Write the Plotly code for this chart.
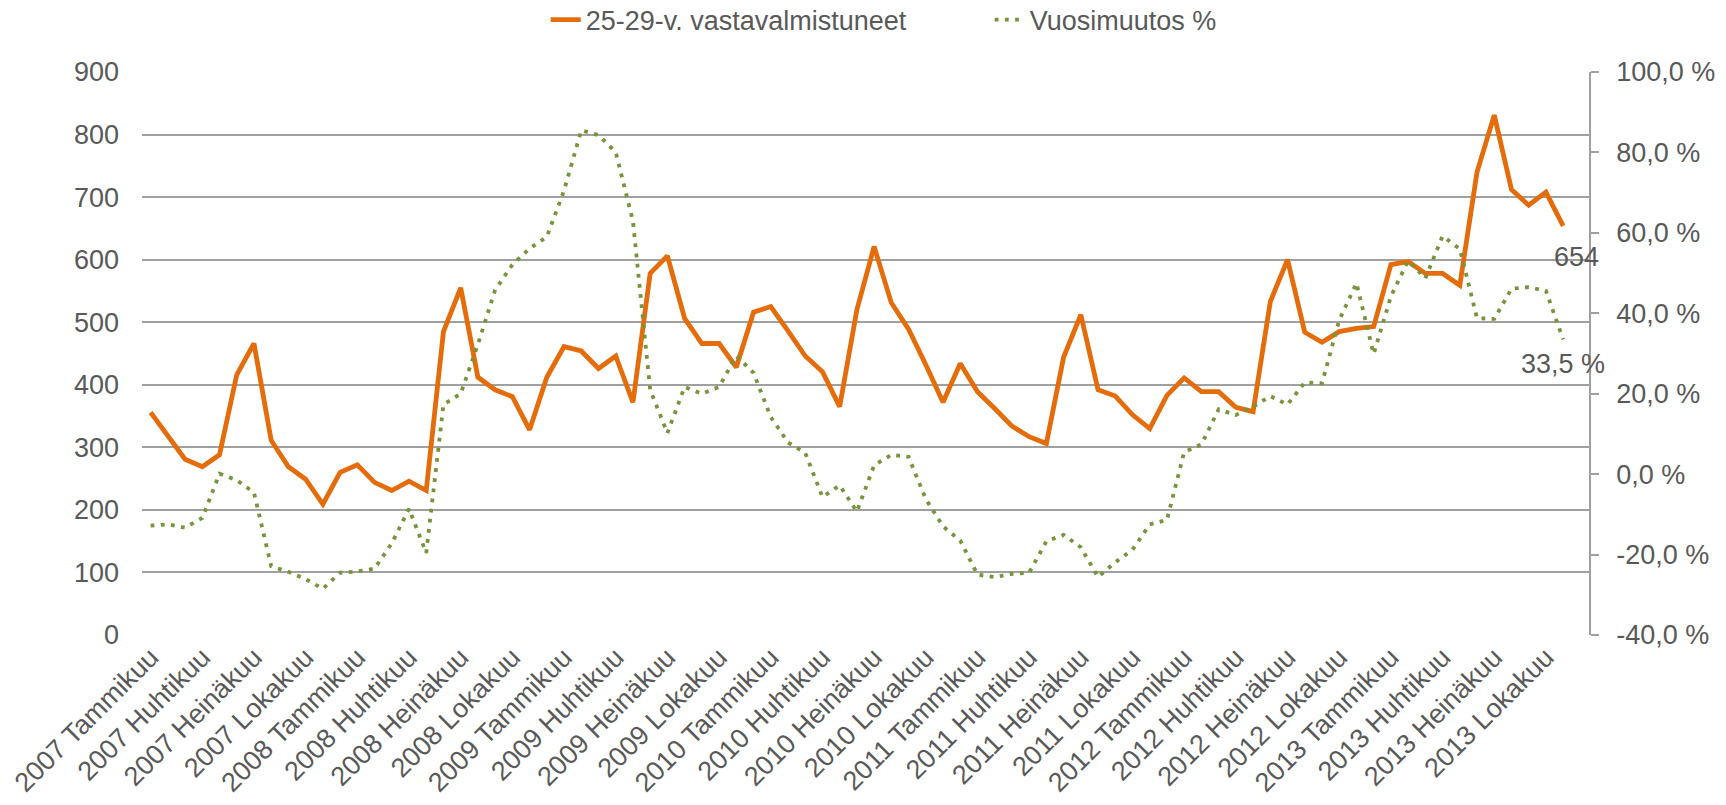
import plotly.graph_objects as go

years = [2007, 2008, 2009, 2010, 2011, 2012, 2013]
months = ["Tammikuu", "Helmikuu", "Maaliskuu", "Huhtikuu", "Toukokuu", "Kesäkuu",
          "Heinäkuu", "Elokuu", "Syyskuu", "Lokakuu", "Marraskuu", "Joulukuu"]
categories = [f"{y} {m}" for y in years for m in months]  # 2013 Joulukuu has no data

graduates = [356, 320, 281, 269, 288, 416, 466, 311, 269, 249, 209, 260,
             272, 244, 231, 246, 231, 485, 555, 412, 392, 381, 328, 412,
             461, 454, 426, 446, 372, 578, 606, 506, 466, 466, 428, 516,
             525, 486, 446, 421, 365, 520, 621, 531, 489, 432, 372, 434,
             389, 362, 334, 317, 306, 444, 512, 392, 382, 352, 330, 383,
             411, 389, 389, 364, 357, 533, 600, 484, 468, 485, 490, 493,
             592, 597, 578, 578, 559, 740, 831, 712, 687, 708, 654, None]

yoy_change = [-12.8, -12.5, -13.3, -10.9, 0.1, -1.5, -4.6, -22.9, -24.3, -26.1, -28.5, -24.5,
              -24.2, -23.5, -17.2, -8.6, -19.6, 17.3, 20.0, 32.3, 45.8, 52.1, 56.1, 59.0,
              70.5, 85.5, 84.3, 80.1, 62.9, 21.0, 10.2, 21.7, 20.0, 21.7, 29.4, 25.2,
              14.2, 7.9, 5.3, -5.7, -2.8, -9.3, 2.2, 4.8, 4.3, -6.2, -13.0, -16.5,
              -25.0, -25.6, -24.8, -24.5, -16.7, -15.1, -18.2, -25.6, -21.9, -18.8, -12.5, -11.4,
              5.5, 7.4, 16.1, 14.7, 16.8, 19.4, 17.3, 22.8, 22.6, 38.3, 47.5, 29.9,
              44.2, 53.1, 48.7, 59.2, 56.0, 38.8, 38.6, 46.1, 46.5, 45.6, 33.5, None]

left_ticks = list(range(0, 1000, 100))
right_ticks = list(range(-40, 120, 20))
right_ticktext = [f"{v},0 %" for v in right_ticks]
x_tickvals = categories[::3]

ORANGE = "#E46C0A"
GREEN = "#77933C"
GRID = "#A0A0A0"
TXT = "#595959"
FONT = "Liberation Sans, Arial, sans-serif"
FS = 27

last_i = max(i for i, v in enumerate(graduates) if v is not None)

fig = go.Figure()
fig.add_trace(go.Scatter(
    x=categories, y=graduates, name="25-29-v. vastavalmistuneet",
    mode="lines", line=dict(color=ORANGE, width=4.8)))
fig.add_trace(go.Scatter(
    x=categories, y=yoy_change, name="Vuosimuutos %", yaxis="y2",
    mode="lines", line=dict(color=GREEN, width=3.8, dash="3.8px,6.4px")))

fig.add_annotation(x=categories[last_i], y=graduates[last_i], xref="x", yref="y",
                   text=str(graduates[last_i]), showarrow=False,
                   xshift=13, yshift=-31,
                   font=dict(family=FONT, size=FS, color=TXT))
fig.add_annotation(x=categories[last_i], y=yoy_change[last_i], xref="x", yref="y2",
                   text=f"{yoy_change[last_i]:.1f} %".replace(".", ","), showarrow=False,
                   xshift=0, yshift=-25,
                   font=dict(family=FONT, size=FS, color=TXT))

fig.update_layout(
    width=1726, height=805,
    paper_bgcolor="white", plot_bgcolor="white",
    margin=dict(l=142, r=137, t=72, b=170, pad=0, autoexpand=False),
    font=dict(family=FONT, size=FS, color=TXT),
    showlegend=True,
    legend=dict(orientation="h", x=0.279, xanchor="left",
                yref="container", y=1 - 20 / 805, yanchor="middle",
                font=dict(family=FONT, size=FS, color=TXT),
                entrywidth=399, entrywidthmode="pixels", tracegroupgap=0),
    xaxis=dict(type="category", tickmode="array", tickvals=x_tickvals,
               ticktext=x_tickvals, tickangle=-45, showgrid=False,
               showline=False, ticks="", zeroline=False, automargin=False,
               tickfont=dict(family=FONT, size=FS, color=TXT),
               range=[-0.5, len(categories) - 0.5]),
    yaxis=dict(range=[0, 900], tickvals=left_ticks, showgrid=True,
               gridcolor=GRID, gridwidth=1.6, zeroline=False, showline=False,
               ticks="", ticklabelstandoff=22, automargin=False,
               tickfont=dict(family=FONT, size=FS, color=TXT)),
    yaxis2=dict(range=[-40, 100], overlaying="y", side="right",
                tickvals=right_ticks, ticktext=right_ticktext, showgrid=False,
                zeroline=False, showline=True, linecolor=GRID, linewidth=1.6,
                ticks="outside", ticklen=8, tickcolor=GRID, tickwidth=1.6,
                ticklabelstandoff=12, automargin=False,
                tickfont=dict(family=FONT, size=FS, color=TXT)),
)

fig.write_html("out.html", config={"displayModeBar": False},
               post_script="document.body.style.margin='0';document.body.style.overflow='hidden';")
